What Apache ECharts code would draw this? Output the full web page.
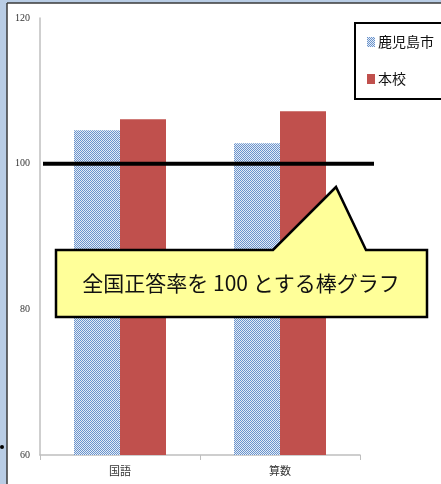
<!DOCTYPE html>
<html><head><meta charset="utf-8">
<script src="https://cdn.jsdelivr.net/npm/echarts@6/dist/echarts.min.js"></script>
<style>html,body{margin:0;padding:0;background:#b9cde5}#c{width:441px;height:484px}</style>
</head><body><div id="c"></div>
<script>
const categories = ['国語', '算数'];
const seriesNames = ['鹿児島市', '本校'];
const kagoshimaValues = [104.6, 102.8];
const schoolValues = [106.1, 107.2];
const yTicks = [60, 80, 100, 120];
const referenceValue = 100;
const calloutText = '全国正答率を 100 とする棒グラフ';

const pat = document.createElement('canvas');
pat.width = 2; pat.height = 2;
const pc = pat.getContext('2d');
pc.fillStyle = '#e4ecf6'; pc.fillRect(0,0,2,2);
pc.fillStyle = '#6a93cc'; pc.fillRect(0,0,1,1); pc.fillRect(1,1,1,1);

const chart = echarts.init(document.getElementById('c'), null, {renderer:'canvas'});
const font = '"Noto Sans CJK JP", sans-serif';
chart.setOption({
  backgroundColor: '#b9cde5',
  animation: false,
  textStyle: {fontFamily: font},
  grid: [
    {left: 40, right: 81, top: 18, bottom: 29},
    {left: 43, right: 67, top: 18, bottom: 29}
  ],
  legend: {
    orient: 'vertical', left: 356, top: 24,
    data: seriesNames,
    icon: 'rect', itemWidth: 8, itemHeight: 10, itemGap: 23,
    padding: [11, 0, 11, 11],
    borderWidth: 0,
    textStyle: {fontSize: 14, color: '#111', fontFamily: font, padding: [0,0,0,-2]}
  },
  xAxis: [
    {type: 'category', gridIndex: 0, data: categories,
     axisLine: {lineStyle: {color: '#bfbfbf', width: 1.5}},
     axisTick: {show: true, length: 5, lineStyle: {color: '#bfbfbf'}},
     axisLabel: {fontSize: 11, color: '#333', margin: 10, fontFamily: font}},
    {type: 'value', gridIndex: 1, min: 0, max: 1, show: false}
  ],
  yAxis: [
    {type: 'value', gridIndex: 0, min: 60, max: 120, interval: 20,
     axisLine: {show: true, lineStyle: {color: '#bfbfbf', width: 1.5}},
     axisTick: {show: false}, splitLine: {show: false},
     axisLabel: {fontSize: 10, color: '#333', margin: 10, fontFamily: '"Liberation Serif", serif',
       formatter: v => yTicks.includes(v) ? String(v) : ''}},
    {type: 'value', gridIndex: 1, min: 60, max: 120, show: false}
  ],
  series: [
    {name: seriesNames[0], type: 'bar', xAxisIndex: 0, yAxisIndex: 0, data: kagoshimaValues,
     barGap: '0%', barCategoryGap: '42.5%',
     itemStyle: {color: {image: pat, repeat: 'repeat'}}},
    {name: seriesNames[1], type: 'bar', xAxisIndex: 0, yAxisIndex: 0, data: schoolValues,
     barGap: '0%', barCategoryGap: '42.5%',
     itemStyle: {color: '#c0504d'}},
    {name: 'ref', type: 'line', xAxisIndex: 1, yAxisIndex: 1, z: 5,
     data: [[0, referenceValue], [1, referenceValue]],
     symbol: 'none', lineStyle: {color: '#000', width: 4}}
  ],
  graphic: [
    {type: 'rect', z: -10, shape: {x: 7, y: 3, width: 434, height: 481},
     style: {fill: '#fff'}},
    {type: 'line', z: -9, shape: {x1: 7, y1: 3, x2: 7, y2: 484},
     style: {stroke: '#3a3a3a', lineWidth: 1.5}},
    {type: 'line', z: -9, shape: {x1: 7, y1: 3, x2: 441, y2: 3},
     style: {stroke: '#3a3a3a', lineWidth: 1.5}},
    {type: 'circle', z: -10, shape: {cx: 2, cy: 447, r: 2}, style: {fill: '#000'}},
    {type: 'line', z: -5, shape: {x1: 355, y1: 23, x2: 441, y2: 23}, style: {stroke: '#000', lineWidth: 2}},
    {type: 'line', z: -5, shape: {x1: 355, y1: 22, x2: 355, y2: 100}, style: {stroke: '#000', lineWidth: 2}},
    {type: 'line', z: -5, shape: {x1: 355, y1: 99, x2: 441, y2: 99}, style: {stroke: '#000', lineWidth: 2}},
    {type: 'polygon', z: 100,
     shape: {points: [[56,250],[273,250],[336,187],[366,250],[427,250],[427,317],[56,317]]},
     style: {fill: '#ffff99', stroke: '#000', lineWidth: 2.5, lineJoin: 'miter'}},
    {type: 'text', z: 101, x: 241, y: 283,
     style: {text: calloutText, font: '21px "Noto Sans CJK JP"', fill: '#111', align: 'center', verticalAlign: 'middle'}}
  ]
});
</script></body></html>
